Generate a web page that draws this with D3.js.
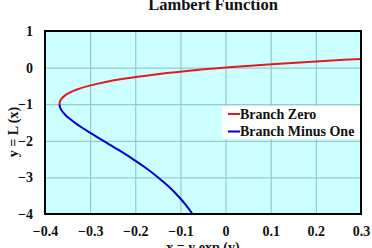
<!DOCTYPE html>
<html><head><meta charset="utf-8">
<script src="https://cdn.jsdelivr.net/npm/d3@7"></script>
<style>body{margin:0;background:#fff}svg{display:block}</style>
</head><body>
<script>
const title = "Lambert Function";
const xLabel = "x = y exp (y)";
const yLabel = "y = L (x)";
const xTicks = [-0.4, -0.3, -0.2, -0.1, 0, 0.1, 0.2, 0.3];
const yTicks = [1, 0, -1, -2, -3, -4];
const seriesNames = ["Branch Zero", "Branch Minus One"];
const seriesColors = ["#e81818", "#0000d0"];
// Branch zero: x and y values
const zeroX = [-0.36788, -0.36780, -0.36741, -0.36591, -0.36330, -0.35946, -0.34761, -0.32929, -0.30327, -0.26813, -0.22225, -0.16375, -0.09048, 0, 0.11052, 0.24428, 0.30007];
const zeroY = [-1, -0.98, -0.95, -0.9, -0.85, -0.8, -0.7, -0.6, -0.5, -0.4, -0.3, -0.2, -0.1, 0, 0.1, 0.2, 0.2368];
// Branch minus one
const minusX = [-0.36788, -0.36744, -0.36616, -0.36143, -0.35429, -0.34524, -0.33470, -0.30410, -0.27067, -0.23715, -0.20521, -0.17580, -0.14936, -0.12602, -0.10569, -0.08819, -0.07326];
const minusY = [-1, -1.05, -1.1, -1.2, -1.3, -1.4, -1.5, -1.75, -2, -2.25, -2.5, -2.75, -3, -3.25, -3.5, -3.75, -4];

const W = 372, H = 248;
const m = {left: 45, right: 11, top: 31, bottom: 34};
const svg = d3.select("body").append("svg").attr("width", W).attr("height", H);
const x = d3.scaleLinear().domain([-0.4, 0.3]).range([m.left, W - m.right]);
const y = d3.scaleLinear().domain([-4, 1]).range([H - m.bottom, m.top]);
const font = "'Liberation Serif','Times New Roman',serif";

svg.append("rect").attr("x", x(-0.4)).attr("y", y(1)).attr("width", x(0.3) - x(-0.4)).attr("height", y(-4) - y(1)).attr("fill", "#ccffff");

const gx = svg.append("g").attr("transform", `translate(0,${y(-4)})`)
  .call(d3.axisBottom(x).tickValues(xTicks).tickSize(-(y(-4) - y(1))).tickFormat(d => d === 0 ? "0" : d3.format(".1f")(d)).tickPadding(12));
const gy = svg.append("g").attr("transform", `translate(${x(-0.4)},0)`)
  .call(d3.axisLeft(y).tickValues(yTicks).tickSize(-(x(0.3) - x(-0.4))).tickFormat(d3.format("d")).tickPadding(12));
[gx, gy].forEach(g => {
  g.select(".domain").remove();
  g.selectAll(".tick line").attr("stroke", "#8cc0c0").attr("stroke-width", 1);
  g.selectAll(".tick text").attr("font-family", font).attr("font-weight", "bold").attr("font-size", 14).attr("fill", "#111");
});

const pts = (xs, ys) => xs.map((v, i) => [v, ys[i]]);
const line = d3.line().x(d => x(d[0])).y(d => y(d[1])).curve(d3.curveCatmullRom);
svg.append("path").datum(pts(minusX, minusY)).attr("d", line).attr("fill", "none").attr("stroke", seriesColors[1]).attr("stroke-width", 2);
svg.append("path").datum(pts(zeroX, zeroY)).attr("d", line).attr("fill", "none").attr("stroke", seriesColors[0]).attr("stroke-width", 2);

svg.append("rect").attr("x", x(-0.4)).attr("y", y(1)).attr("width", x(0.3) - x(-0.4)).attr("height", y(-4) - y(1)).attr("fill", "none").attr("stroke", "#000").attr("stroke-width", 2);

// legend
const lg = svg.append("g");
lg.append("rect").attr("x", 222).attr("y", 106).attr("width", 138).attr("height", 33).attr("fill", "#fff");
seriesNames.forEach((n, i) => {
  const yy = 114 + i * 17.5;
  lg.append("line").attr("x1", 228).attr("x2", 240).attr("y1", yy).attr("y2", yy).attr("stroke", seriesColors[i]).attr("stroke-width", 2);
  lg.append("text").attr("x", 240).attr("y", yy + 4.8).text(n).attr("font-family", font).attr("font-weight", "bold").attr("font-size", 14).attr("fill", "#111");
});

svg.append("text").attr("x", 213).attr("y", 10).attr("text-anchor", "middle").text(title).attr("font-family", font).attr("font-weight", "bold").attr("font-size", 16.5).attr("fill", "#111");
svg.append("text").attr("x", 203).attr("y", 252).attr("text-anchor", "middle").text(xLabel).attr("font-family", font).attr("font-weight", "bold").attr("font-size", 14).attr("fill", "#111");
svg.append("text").attr("transform", "translate(18,132) rotate(-90)").attr("text-anchor", "middle").text(yLabel).attr("font-family", font).attr("font-weight", "bold").attr("font-size", 14).attr("fill", "#111");
</script>
</body></html>
